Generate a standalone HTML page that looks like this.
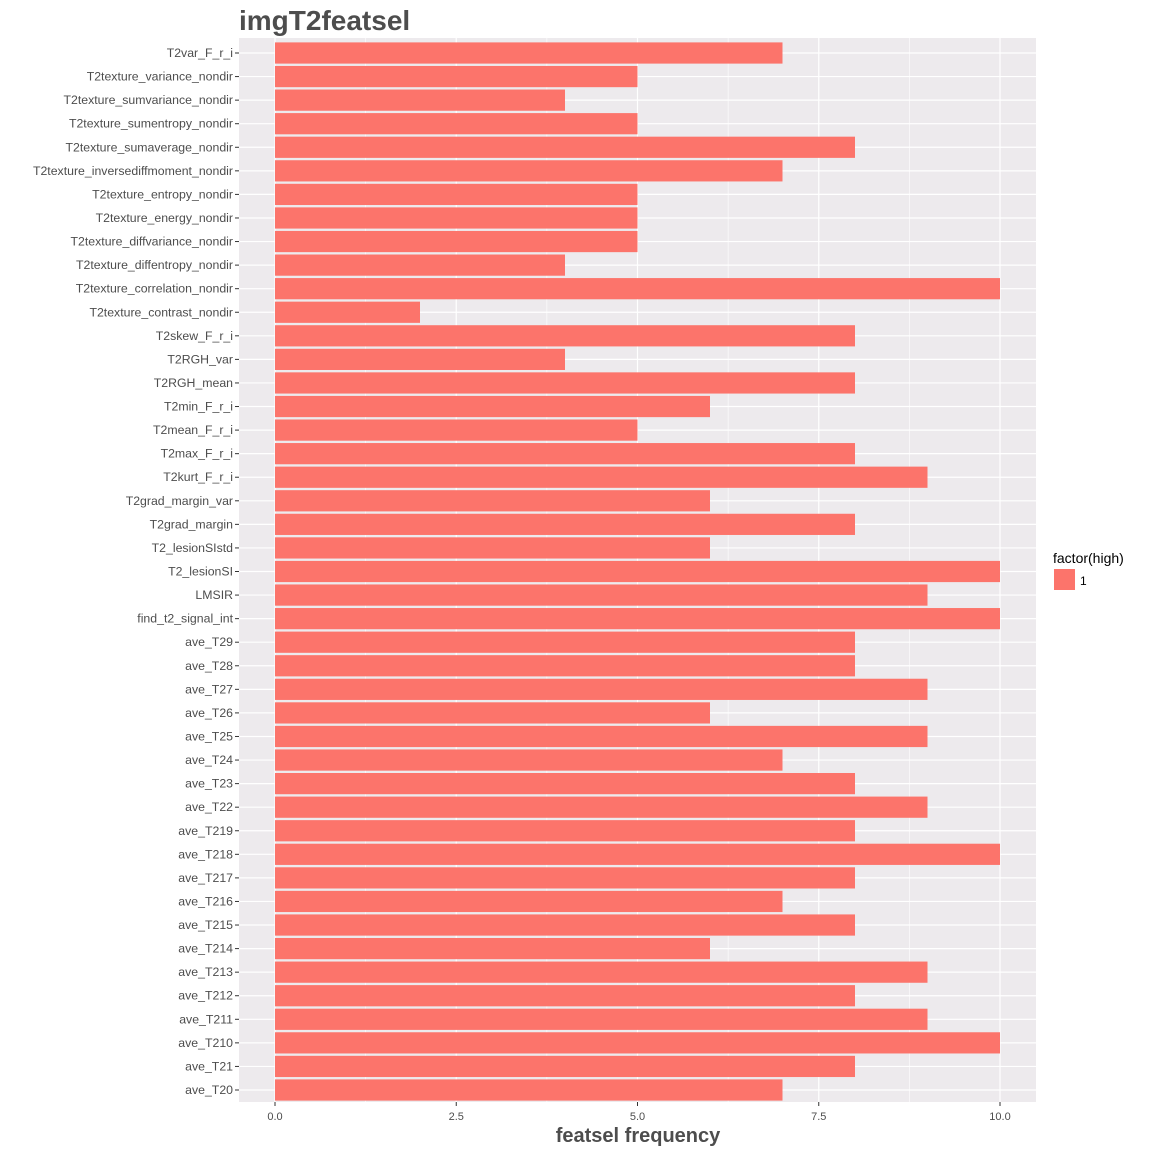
<!DOCTYPE html>
<html><head><meta charset="utf-8"><style>
body{margin:0;background:#fff;font-family:"Liberation Sans",Arial,sans-serif}
svg text{font-family:"Liberation Sans",Arial,sans-serif}
</style></head><body>
<svg id="chart" width="1152" height="1152" xmlns="http://www.w3.org/2000/svg">
<text x="239" y="30" font-size="28" font-weight="bold" fill="#4D4D4D">imgT2featsel</text>
<rect x="239" y="38" width="797" height="1064" fill="#EDEAED"/>
<g id="grid"></g><g id="bars"></g><g id="yaxis"></g><g id="xaxis"></g>
<text x="638" y="1142" font-size="20" font-weight="bold" fill="#4D4D4D" text-anchor="middle">featsel frequency</text>
<g>
<text x="1053" y="563" font-size="14" fill="#000">factor(high)</text>
<rect x="1054" y="569" width="21" height="21" fill="#FC746B"/>
<text x="1080" y="585" font-size="12" fill="#000">1</text>
</g>
</svg>
<script>
const categories=["T2var_F_r_i","T2texture_variance_nondir","T2texture_sumvariance_nondir","T2texture_sumentropy_nondir","T2texture_sumaverage_nondir","T2texture_inversediffmoment_nondir","T2texture_entropy_nondir","T2texture_energy_nondir","T2texture_diffvariance_nondir","T2texture_diffentropy_nondir","T2texture_correlation_nondir","T2texture_contrast_nondir","T2skew_F_r_i","T2RGH_var","T2RGH_mean","T2min_F_r_i","T2mean_F_r_i","T2max_F_r_i","T2kurt_F_r_i","T2grad_margin_var","T2grad_margin","T2_lesionSIstd","T2_lesionSI","LMSIR","find_t2_signal_int","ave_T29","ave_T28","ave_T27","ave_T26","ave_T25","ave_T24","ave_T23","ave_T22","ave_T219","ave_T218","ave_T217","ave_T216","ave_T215","ave_T214","ave_T213","ave_T212","ave_T211","ave_T210","ave_T21","ave_T20"];
const values=[7,5,4,5,8,7,5,5,5,4,10,2,8,4,8,6,5,8,9,6,8,6,10,9,10,8,8,9,6,9,7,8,9,8,10,8,7,8,6,9,8,9,10,8,7];
const xTicks=[0,2.5,5,7.5,10];
const xTickLabels=["0.0","2.5","5.0","7.5","10.0"];
const NS="http://www.w3.org/2000/svg";
const top0=38,bot=1102,left=239,right=1036;
const xs=v=>275+(v)*72.5;
const step=(1090-53)/(categories.length-1);
const ys=i=>53+i*step;
function mk(t,a,p){const e=document.createElementNS(NS,t);for(const k in a)e.setAttribute(k,a[k]);p.appendChild(e);return e;}
const grid=document.getElementById('grid'),bars=document.getElementById('bars'),ya=document.getElementById('yaxis'),xa=document.getElementById('xaxis');
for(let i=0;i<xTicks.length-1;i++){const m=(xTicks[i]+xTicks[i+1])/2;
const g=mk('line',{x1:xs(m),x2:xs(m),y1:top0,y2:bot,stroke:'#fff','stroke-width':0.6},grid);

}
xTicks.forEach((t,i)=>{
const g=mk('line',{x1:xs(t),x2:xs(t),y1:top0,y2:bot,stroke:'#fff','stroke-width':1.2},grid);


const tk=mk('line',{x1:xs(t),x2:xs(t),y1:bot,y2:bot+4,stroke:'#333','stroke-width':1},xa);


const tl=mk('text',{x:xs(t),y:bot+18,'font-size':11,fill:'#4D4D4D','text-anchor':'middle'},xa);
tl.textContent=xTickLabels[i];

});
categories.forEach((c,i)=>{const y=ys(i);
const g=mk('line',{x1:left,x2:right,y1:y,y2:y,stroke:'#fff','stroke-width':1.2},grid);


const b=mk('rect',{x:xs(0),y:y-step*0.45,width:xs(values[i])-xs(0),height:step*0.9,fill:'#FC746B'},bars);


const tk=mk('line',{x1:left-4,x2:left,y1:y,y2:y,stroke:'#333','stroke-width':1},ya);


const tl=mk('text',{x:left-6,y:y+4,'font-size':12.3,fill:'#4D4D4D','text-anchor':'end'},ya);
tl.textContent=c;

});
</script>
</body></html>
